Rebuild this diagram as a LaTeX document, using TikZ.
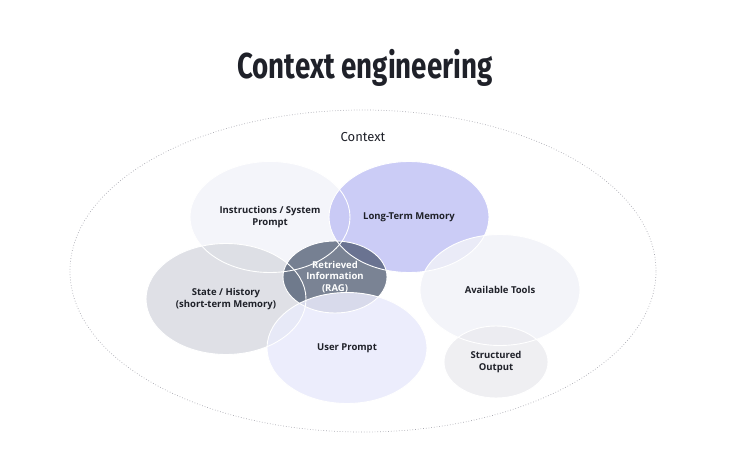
\documentclass[tikz,border=0pt]{standalone}
\usepackage{fontspec}
\setmainfont{Open Sans}
\newfontfamily\titlefont{Fira Sans}
\usepackage{tikz}
\usetikzlibrary{positioning,shapes.geometric}
\definecolor{Ink}{HTML}{1F2129}
\definecolor{Rim}{HTML}{A8A8B0}
\definecolor{InstrFill}{HTML}{F2F3F9}
\definecolor{LtmFill}{HTML}{C2C3F5}
\definecolor{StateFill}{HTML}{D9DBE2}
\definecolor{RagFill}{HTML}{414F66}
\definecolor{UserFill}{HTML}{E9EAFB}
\definecolor{ToolFill}{HTML}{F1F2F8}
\definecolor{OutFill}{HTML}{ECECF0}
\tikzset{
  blob/.style={ellipse,minimum width=160pt,minimum height=111pt,inner sep=0pt,fill opacity=.85},
  small blob/.style={blob,minimum width=104pt,minimum height=72pt},
  rim/.style={draw=white,line width=.9pt},
  ctx/.style={draw=Rim,dotted,line width=.7pt},
  lab/.style={font=\fontsize{9.5}{11.5}\selectfont\bfseries,text=Ink,align=center}
}
\begin{document}
\begin{tikzpicture}[x=1pt,y=-1pt]
  \useasboundingbox (0,0) rectangle (730,468);
  \node[font=\titlefont\fontsize{36}{40}\selectfont\bfseries,text=Ink] (title) at (365,68) {\scalebox{.77}[1]{Context engineering}};
  \node[ellipse,ctx,minimum width=586pt,minimum height=322pt] (context) at (363,271) {};
  \node[font=\titlefont\fontsize{13}{15}\selectfont,text=Ink] (ctxlab) at (363,137) {Context};
  % the overlapping areas
  \node[blob,fill=InstrFill] (instr) at (270,217) {};
  \node[blob,fill=LtmFill] (ltm) at (409,217) {};
  \node[blob,fill=StateFill] (state) at (226,299) {};
  \node[small blob,fill=RagFill,fill opacity=.7] (rag) at (335,277) {};
  \node[blob,fill=UserFill] (user) at (347,348) {};
  \node[blob,fill=ToolFill] (tools) at (500,290) {};
  \node[small blob,fill=OutFill] (out) at (496,362) {};
  \foreach \b/\rx/\ry in {instr/80/55.5,ltm/80/55.5,state/80/55.5,rag/52/36,user/80/55.5,tools/80/55.5,out/52/36}
    \draw[rim] (\b.center) ellipse [x radius=\rx, y radius=\ry];
  % labels
  \node[lab] at (instr.center) {Instructions / System\\Prompt};
  \node[lab] at (ltm.center) {Long-Term Memory};
  \node[lab] at (state.center) {State / History\\(short-term Memory)};
  \node[lab,text=white] at (rag.center) {Retrieved\\Information\\(RAG)};
  \node[lab] at (user.center) {User Prompt};
  \node[lab] at (tools.center) {Available Tools};
  \node[lab] at (out.center) {Structured\\Output};
\end{tikzpicture}
\end{document}
